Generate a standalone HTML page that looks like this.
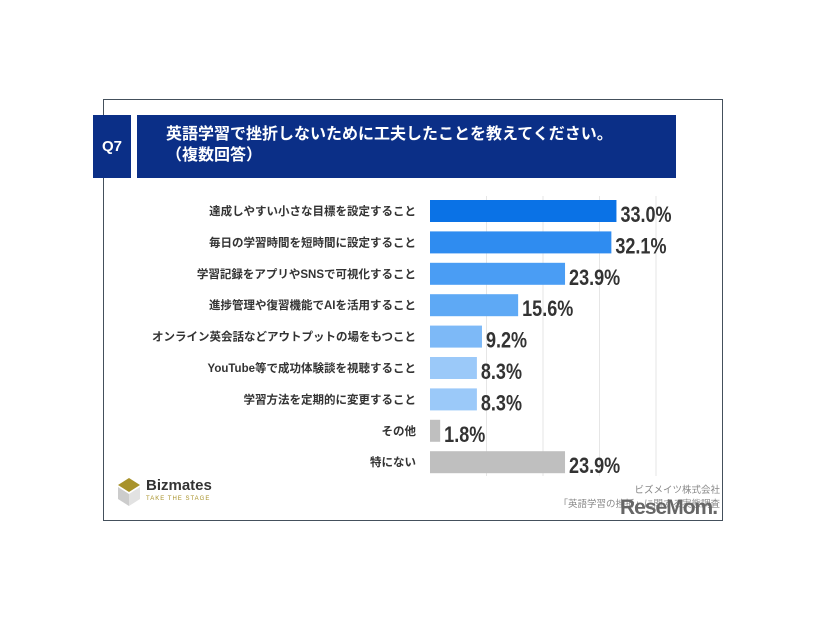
<!DOCTYPE html>
<html><head><meta charset="utf-8"><style>
body{margin:0;width:826px;height:620px;background:#fff;position:relative;overflow:hidden;font-family:"Liberation Sans","Noto Sans CJK JP",sans-serif}
.abs{position:absolute}
</style></head><body>
<div class="abs" style="left:103px;top:99px;width:618px;height:420px;border:1.5px solid #44505c"></div>
<div class="abs" style="left:93px;top:115px;width:38px;height:63px;background:#0b2f87;color:#fff;font-weight:bold;font-size:15px;line-height:63px;text-align:center">Q7</div>
<div class="abs" style="left:137px;top:115px;width:539px;height:63px;background:#0b2f87;color:#fff;font-weight:bold;font-size:16px;line-height:21px;box-sizing:border-box;padding:9px 0 0 29px">英語学習で挫折しないために工夫したことを教えてください。<br>（複数回答）</div>
<svg class="abs" style="left:0;top:0" width="826" height="620" id="chart"></svg>
<div class="abs" style="left:118px;top:478px">
<svg width="22" height="28" style="position:absolute;left:0;top:0"><polygon points="11,0 22,7 11,14 0,7" fill="#a8922a"/><polygon points="0,9 11,16 11,28 0,21" fill="#ccc"/><polygon points="11,16 22,9 22,21 11,28" fill="#e2e2e2"/></svg>
<div class="abs" style="left:28px;top:-1px;font-weight:bold;font-size:15px;color:#333">Bizmates</div>
<div class="abs" style="left:28px;top:18px;font-size:6px;color:#a8922a;letter-spacing:1px;white-space:nowrap">TAKE THE STAGE</div>
</div>
<div class="abs" style="left:520px;top:484px;width:200px;text-align:right;font-size:9.5px;color:#888;line-height:14px">ビズメイツ株式会社<br>「英語学習の挫折」に関する実態調査</div>
<div class="abs" style="left:620px;top:496px;font-weight:bold;font-size:21px;color:#666;letter-spacing:-1px">ReseMom.</div>
<script>
const categories=["達成しやすい小さな目標を設定すること","毎日の学習時間を短時間に設定すること","学習記録をアプリやSNSで可視化すること","進捗管理や復習機能でAIを活用すること","オンライン英会話などアウトプットの場をもつこと","YouTube等で成功体験談を視聴すること","学習方法を定期的に変更すること","その他","特にない"];
const values=[33.0,32.1,23.9,15.6,9.2,8.3,8.3,1.8,23.9];
const colors=["#0a72e6","#2f8cf0","#4a9df4","#5ea9f5","#7db9f7","#9bc9f9","#9bc9f9","#bfbfbf","#bfbfbf"];
const gridTicks=[10,20,30,40];
const svg=document.getElementById('chart');const NS="http://www.w3.org/2000/svg";
const x0=430,pxPer=5.65,y0=211,step=31.4,bh=22;
const xs=v=>x0+v*pxPer, ys=i=>y0+i*step;
gridTicks.forEach(t=>{const l=document.createElementNS(NS,'line');


l.setAttribute('x1',xs(t));l.setAttribute('x2',xs(t));l.setAttribute('y1',196);l.setAttribute('y2',476);l.setAttribute('stroke','#e6e6e6');svg.appendChild(l);});
categories.forEach((c,i)=>{const y=ys(i);
const r=document.createElementNS(NS,'rect');


r.setAttribute('x',x0);r.setAttribute('y',y-bh/2);r.setAttribute('width',values[i]*pxPer);r.setAttribute('height',bh);r.setAttribute('fill',colors[i]);svg.appendChild(r);
const t=document.createElementNS(NS,'text');


t.setAttribute('x',416);t.setAttribute('y',y+4);t.setAttribute('text-anchor','end');t.setAttribute('font-size','11.5');t.setAttribute('font-weight','bold');t.setAttribute('fill','#333');t.textContent=c;svg.appendChild(t);
const v=document.createElementNS(NS,'text');


v.setAttribute('transform','translate('+(xs(values[i])+4)+','+(y+11)+') scale(0.82,1)');
v.setAttribute('font-size','22');v.setAttribute('font-weight','bold');v.setAttribute('fill','#333');v.textContent=values[i].toFixed(1)+'%';svg.appendChild(v);});
</script>
</body></html>
